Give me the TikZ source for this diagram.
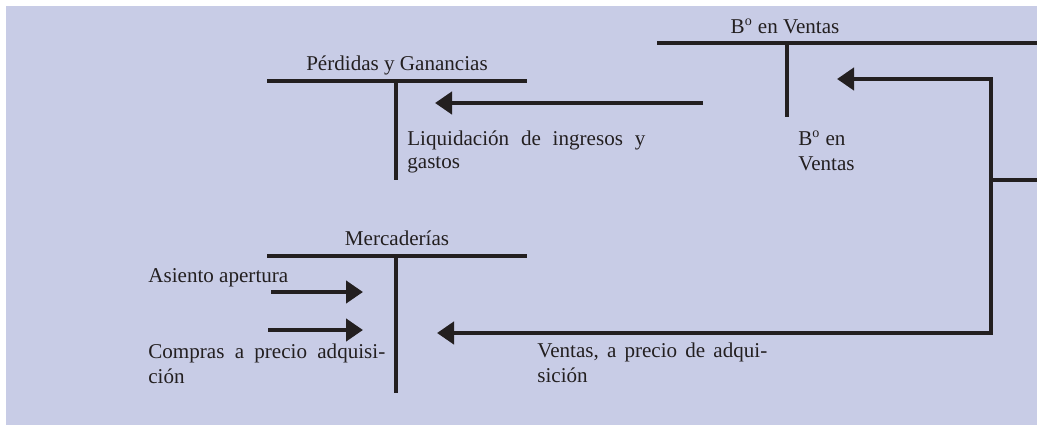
\documentclass[tikz,border=0pt]{standalone}
\usepackage{fontspec}
\setmainfont{Liberation Serif}
\usetikzlibrary{arrows.meta}
\definecolor{fondo}{RGB}{200,204,230}
\definecolor{tinta}{RGB}{35,31,32}
\tikzset{
  cuenta/.style={draw=tinta, line width=2.55pt},
  flecha/.style={cuenta, -{Triangle[length=0.34cm,width=0.44cm]}},
  titulo/.style={anchor=base, inner sep=0pt, text=tinta, font=\fontsize{12}{14}\selectfont},
  texto/.style={anchor=base west, inner sep=0pt, text=tinta, font=\fontsize{12}{14}\selectfont}
}
\begin{document}
\begin{tikzpicture}[x=0.02cm, y=-0.02cm]
    \useasboundingbox (0,0) rectangle (1037,426);
    \fill[fondo] (6,6) rectangle (1037,425);
    % cuentas en T
    \draw[cuenta] (267,81) -- (527,81);
    \draw[cuenta] (396,81) -- (396,180);
    \node[titulo] (pyg) at (397,70) {Pérdidas y Ganancias};
    \draw[cuenta] (267,256) -- (527,256);
    \draw[cuenta] (396,256) -- (396,393);
    \node[titulo] (merc) at (397,245) {Mercaderías};
    \draw[cuenta] (657,43) -- (1037,43);
    \draw[cuenta] (787,43) -- (787,117);
    \node[titulo] (bv) at (785,33) {B\textsuperscript{o} en Ventas};
    % extremos de las flechas
    \coordinate (liq-a) at (703,103);
    \coordinate (liq-b) at (435,103);
    \coordinate (bv-in) at (837,79);
    \coordinate (esq-a) at (991,79);
    \coordinate (esq-b) at (991,333);
    \coordinate (esq-m) at (991,180);
    \coordinate (borde) at (1037,180);
    \coordinate (merc-in) at (437,333);
    \coordinate (ap-a) at (271,292);
    \coordinate (ap-b) at (363,292);
    \coordinate (co-a) at (268,330);
    \coordinate (co-b) at (363,330);
    % flechas
    \draw[flecha] (liq-a) -- (liq-b);
    \draw[cuenta, {Triangle[length=0.34cm,width=0.44cm]}-{Triangle[length=0.34cm,width=0.44cm]}] (bv-in) -- (esq-a) -- (esq-b) -- (merc-in);
    \draw[cuenta] (esq-m) -- (borde);
    \draw[flecha] (ap-a) -- (ap-b);
    \draw[flecha] (co-a) -- (co-b);
    % textos
    \node[texto, text width=4.76cm] (liq1) at (407,145) {Liquidación\hfill de\hfill ingresos\hfill y};
    \node[texto] (liq2) at (407,168) {gastos};
    \node[texto] (bv1) at (798,145) {B\textsuperscript{o} en};
    \node[texto] (bv2) at (798,170) {Ventas};
    \node[texto] (ap) at (148,282) {Asiento apertura};
    \node[texto, text width=4.74cm] (co1) at (148,358) {Compras\hfill a\hfill precio\hfill adquisi-};
    \node[texto] (co2) at (148,383) {ción};
    \node[texto, text width=4.6cm] (ve1) at (537,357) {Ventas,\hfill a\hfill precio\hfill de\hfill adqui-};
    \node[texto] (ve2) at (537,382) {sición};
\end{tikzpicture}
\end{document}
